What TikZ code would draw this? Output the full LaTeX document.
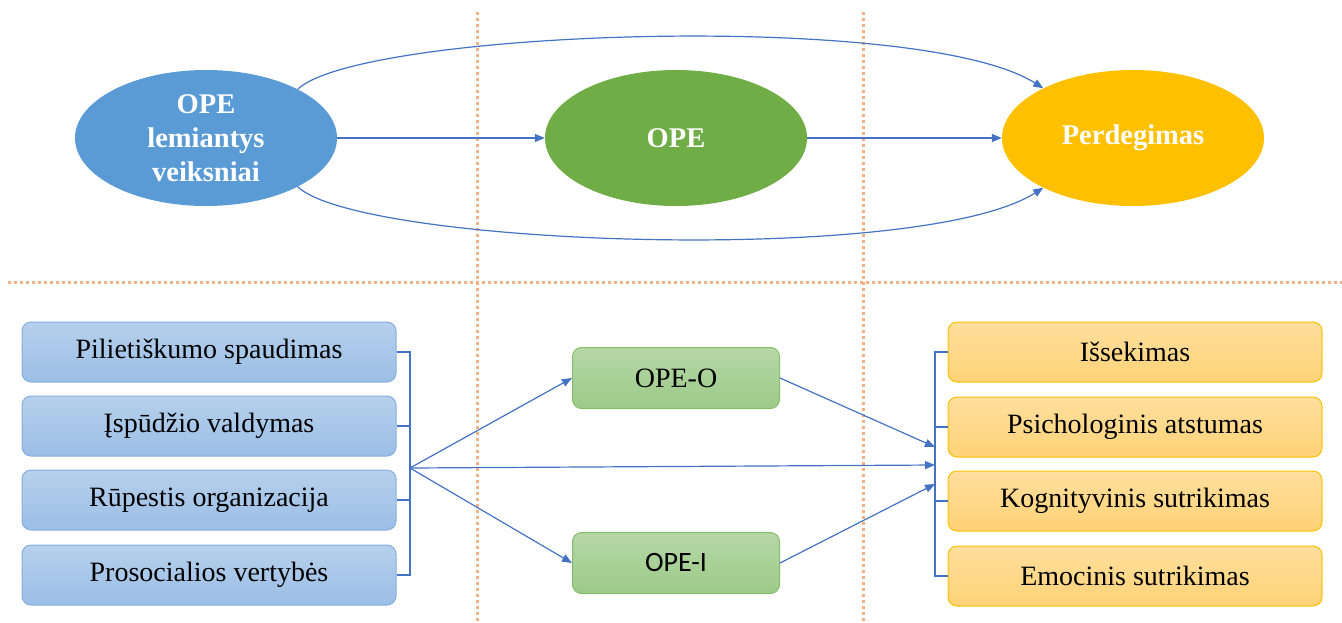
\documentclass[tikz,border=0pt]{standalone}
\usepackage{fontspec}
\setmainfont{Liberation Serif}
\newfontfamily\calfont{Carlito}
\usetikzlibrary{shapes.geometric,arrows.meta}
\definecolor{arrowblue}{HTML}{4472C4}
\definecolor{ellblue}{HTML}{5B9BD5}
\definecolor{ellgreen}{HTML}{70AD47}
\definecolor{ellgold}{HTML}{FFC000}
\definecolor{dotorange}{HTML}{F4B183}
\definecolor{bluetop}{HTML}{B6D0EC}
\definecolor{bluebot}{HTML}{9BBEE6}
\definecolor{blueline}{HTML}{86AEE0}
\definecolor{greentop}{HTML}{B6D7A8}
\definecolor{greenbot}{HTML}{9CCA88}
\definecolor{greenline}{HTML}{86BD68}
\definecolor{goldtop}{HTML}{FFDF9E}
\definecolor{goldbot}{HTML}{FFD276}
\tikzset{
  bigell/.style={ellipse, minimum width=262pt, minimum height=136pt, inner sep=0pt,
    text=white, font=\fontsize{28.5}{34}\selectfont\bfseries, align=center},
  bluebox/.style={rounded corners=9pt, minimum width=374pt, minimum height=60pt, inner sep=0pt,
    draw=blueline, line width=1pt, top color=bluetop, bottom color=bluebot,
    font=\fontsize{28}{34}\selectfont},
  greenbox/.style={rounded corners=9pt, minimum width=207pt, minimum height=61pt, inner sep=0pt,
    draw=greenline, line width=1pt, top color=greentop, bottom color=greenbot,
    font=\fontsize{28}{34}\selectfont},
  goldbox/.style={rounded corners=9pt, minimum width=374pt, minimum height=60pt, inner sep=0pt,
    draw=ellgold, line width=1pt, top color=goldtop, bottom color=goldbot,
    font=\fontsize{28}{34}\selectfont},
  conn/.style={draw=arrowblue, line width=1.2pt, -{Triangle[length=10pt,width=8pt]}},
  brk/.style={draw=arrowblue, line width=1.2pt},
  sep/.style={draw=dotorange, line width=3pt, dash pattern=on 3pt off 3pt},
}
\begin{document}
\begin{tikzpicture}[x=1pt,y=-1pt]
\useasboundingbox (0,0) rectangle (1342,622);
% separators
\draw[sep] (477,12) -- (477,622);
\draw[sep] (863,12) -- (863,622);
\draw[sep] (8,282) -- (1342,282);
% top ellipses
\node[bigell, fill=ellblue] (e1) at (206,138) {OPE\\lemiantys\\veiksniai};
\node[bigell, fill=ellgreen] (e2) at (676,138) {OPE};
\node[bigell, fill=ellgold] (e3) at (1133,138) {Perdegimas};
\draw[conn] (e1.east) -- (e2.west);
\draw[conn] (e2.east) -- (e3.west);
\draw[conn] (e1.28) .. controls (360,30) and (920,10) .. (e3.151);
\draw[conn] (e1.-28) .. controls (360,246) and (920,266) .. (e3.209);
% left boxes
\node[bluebox] (b1) at (209,352) {Pilietiškumo spaudimas};
\node[bluebox] (b2) at (209,426) {Įspūdžio valdymas};
\node[bluebox] (b3) at (209,500) {Rūpestis organizacija};
\node[bluebox] (b4) at (209,575) {Prosocialios vertybės};
% middle boxes
\node[greenbox] (g1) at (676,378) {OPE-O};
\node[greenbox] (g2) at (676,563) {\calfont OPE-I};
% right boxes
\node[goldbox] (o1) at (1135,352) {Išsekimas};
\node[goldbox] (o2) at (1135,427) {Psichologinis atstumas};
\node[goldbox] (o3) at (1135,501) {Kognityvinis sutrikimas};
\node[goldbox] (o4) at (1135,576) {Emocinis sutrikimas};
% left bracket
\coordinate (lb) at (410,468);
\draw[brk] (b1.east) -- (lb |- b1.east) -- (lb |- b4.east) -- (b4.east);
\draw[brk] (b2.east) -- (lb |- b2.east);
\draw[brk] (b3.east) -- (lb |- b3.east);
% right bracket
\coordinate (rb) at (935,465);
\coordinate (rbo) at (935,447);
\coordinate (rbi) at (935,484);
\draw[brk] (o1.west) -- (rb |- o1.west) -- (rb |- o4.west) -- (o4.west);
\draw[brk] (o2.west) -- (rb |- o2.west);
\draw[brk] (o3.west) -- (rb |- o3.west);
% arrows
\draw[conn] (lb) -- (g1.west);
\draw[conn] (lb) -- (g2.west);
\draw[conn] (lb) -- (rb);
\draw[conn] (g1.east) -- (rbo);
\draw[conn] (g2.east) -- (rbi);
\end{tikzpicture}
\end{document}
